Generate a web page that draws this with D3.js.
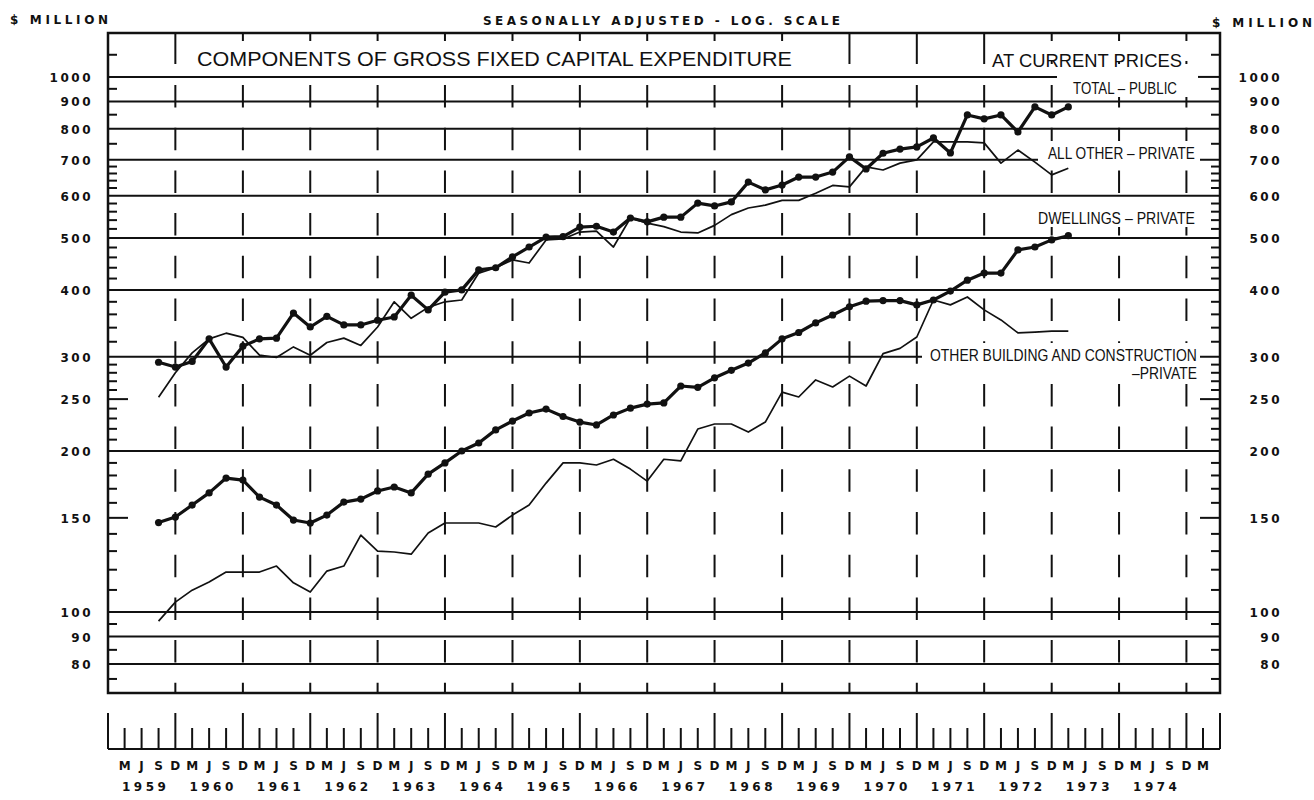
<!DOCTYPE html>
<html>
<head>
<meta charset="utf-8">
<script src="https://cdn.jsdelivr.net/npm/d3@7"></script>
<style>
  body { margin: 0; background: #fff; }
  svg { display: block; }
  .num { font-family: "DejaVu Sans", sans-serif; font-weight: bold; font-size: 12px; fill: #111; }
  .lab { font-family: "Liberation Sans", Arial, sans-serif; fill: #111; }
</style>
</head>
<body>
<svg id="chart" width="1314" height="800"></svg>
<script>
// quarterly observations, Sep 1959 .. Mar 1973
const periods = [
  "1959-09", "1959-12",
  "1960-03", "1960-06", "1960-09", "1960-12",
  "1961-03", "1961-06", "1961-09", "1961-12",
  "1962-03", "1962-06", "1962-09", "1962-12",
  "1963-03", "1963-06", "1963-09", "1963-12",
  "1964-03", "1964-06", "1964-09", "1964-12",
  "1965-03", "1965-06", "1965-09", "1965-12",
  "1966-03", "1966-06", "1966-09", "1966-12",
  "1967-03", "1967-06", "1967-09", "1967-12",
  "1968-03", "1968-06", "1968-09", "1968-12",
  "1969-03", "1969-06", "1969-09", "1969-12",
  "1970-03", "1970-06", "1970-09", "1970-12",
  "1971-03", "1971-06", "1971-09", "1971-12",
  "1972-03", "1972-06", "1972-09", "1972-12",
  "1973-03"
];

// $ million, seasonally adjusted
const totalPublic = [293, 287, 294, 324, 287, 314, 324, 325, 362, 341, 357, 344, 344, 351, 356, 391, 367, 396, 400,
  436, 440, 461, 481, 502, 503, 524, 526, 513, 545, 536, 547, 547, 581, 574, 584, 636, 615, 628, 650, 650, 664,
  709, 673, 720, 733, 740, 769, 721, 849, 835, 849, 789, 879, 849, 879];
const allOtherPrivate = [252, 280, 305, 324, 332, 326, 302, 299, 313, 302, 319, 325, 315, 341, 380, 354, 371, 380,
  383, 430, 440, 455, 449, 496, 498, 513, 515, 481, 545, 533, 525, 513, 511, 528, 553, 569, 576, 588, 588, 606,
  627, 623, 679, 670, 690, 700, 756, 756, 756, 753, 690, 730, 693, 656, 675];
const dwellingsPrivate = [147, 150.5, 158.5, 167, 178, 176.5, 164, 158.5, 148.6, 146.7, 151.8, 160.5, 162.6, 168.4,
  171.3, 167, 181, 190, 200, 207, 219, 227.5, 235.5, 239.5, 232, 226.5, 223.7, 233.5, 240.5, 244.7, 245.9, 264.5,
  263, 274, 283, 292, 305, 324, 333, 347, 359, 372, 381, 382, 382, 375, 383, 398, 417, 430, 430, 475, 481, 496, 505];
const otherBuildingPrivate = [96.2, 104.4, 109.9, 113.8, 118.8, 118.8, 118.8, 121.9, 113.4, 109, 119.3, 121.9,
  139.3, 130, 129.5, 128.3, 140.5, 146.7, 146.7, 146.7, 144.2, 151.8, 158.5, 174.2, 190, 190, 188.3, 193, 185,
  175.7, 193, 191.6, 219.8, 224.6, 224.6, 217, 226.5, 257.7, 252.3, 271.5, 263.4, 276, 264.5, 304, 311, 326.6,
  383, 375, 388, 367, 351.5, 332.4, 333.6, 335, 335];

const gridValues = [1000, 900, 800, 700, 600, 500, 400, 300, 200, 100, 90, 80];
const axisLabels = [1000, 900, 800, 700, 600, 500, 400, 300, 250, 200, 150, 100, 90, 80];
const longTicks = [250, 150];
const minorTicks = [1100, 950, 850, 750, 680, 660, 640, 620, 580, 560, 540, 520, 480, 460, 440, 420,
  380, 360, 340, 320, 290, 280, 270, 260, 240, 230, 220, 210, 190, 180, 170, 160,
  140, 130, 120, 110, 95, 85, 75];
const monthLetters = ["M", "J", "S", "D"];
const years = [1959, 1960, 1961, 1962, 1963, 1964, 1965, 1966, 1967, 1968, 1969, 1970, 1971, 1972, 1973, 1974];
const solidTopYears = [1959, 1969, 1970, 1971];
const dottedTopYears = [1972, 1973, 1974];

const plotL = 108, plotR = 1220, plotT = 33, plotB = 693;
const svg = d3.select("#chart");
const parse = d3.timeParse("%Y-%m");
const startDate = new Date(1958, 11, 1), endDate = new Date(1975, 5, 1);

const x = d3.scaleTime()
  .domain([startDate, endDate])
  .range([plotL, plotR]);
const y = d3.scaleLog()
  .domain([70.6, 1208])
  .range([plotB, plotT]);

const ink = "#111";

// horizontal rules
svg.append("g").selectAll("line")
  .data(gridValues)
  .join("line")
  .attr("x1", plotL)
  .attr("x2", d => d === 1000 ? 1057 : plotR)
  .attr("y1", d => y(d))
  .attr("y2", d => y(d))
  .attr("stroke", ink)
  .attr("stroke-width", 2);

// vertical year lines (dashed in the body)
const decembers = years.map(yr => new Date(yr, 11, 1));
svg.append("g").selectAll("line")
  .data(decembers)
  .join("line")
  .attr("x1", d => x(d)).attr("x2", d => x(d))
  .attr("y1", 85).attr("y2", plotB)
  .attr("stroke", ink)
  .attr("stroke-width", 2)
  .attr("stroke-dasharray", "22.5 20.2");

// top band: solid separators and short ticks
svg.append("g").selectAll("line")
  .data(years)
  .join("line")
  .attr("x1", d => x(new Date(d, 11, 1))).attr("x2", d => x(new Date(d, 11, 1)))
  .attr("y1", plotT)
  .attr("y2", d => solidTopYears.includes(d) ? 64 : 41)
  .attr("stroke", ink)
  .attr("stroke-width", 2);
svg.append("g").selectAll("line")
  .data(dottedTopYears)
  .join("line")
  .attr("x1", d => x(new Date(d, 11, 1))).attr("x2", d => x(new Date(d, 11, 1)))
  .attr("y1", 61).attr("y2", 64)
  .attr("stroke", ink)
  .attr("stroke-width", 2);

// axis ticks on both sides
const tickG = svg.append("g").attr("stroke", ink).attr("stroke-width", 2);
[[plotL, 1], [plotR, -1]].forEach(([x0, dir]) => {
  tickG.selectAll(null)
    .data(minorTicks)
    .join("line")
    .attr("x1", x0).attr("x2", x0 + dir * 9)
    .attr("y1", d => y(d)).attr("y2", d => y(d));
  tickG.selectAll(null)
    .data(longTicks)
    .join("line")
    .attr("x1", x0).attr("x2", x0 + dir * 20)
    .attr("y1", d => y(d)).attr("y2", d => y(d));
});
tickG.append("line")
  .attr("x1", plotR - 22).attr("x2", plotR)
  .attr("y1", y(1000)).attr("y2", y(1000));

// frame
svg.append("rect")
  .attr("x", plotL).attr("y", plotT)
  .attr("width", plotR - plotL).attr("height", plotB - plotT)
  .attr("fill", "none")
  .attr("stroke", ink)
  .attr("stroke-width", 2.5);

// axis numbers
svg.append("g").selectAll("text")
  .data(axisLabels)
  .join("text")
  .attr("class", "num")
  .attr("x", 93)
  .attr("y", d => y(d) + 5)
  .attr("text-anchor", "end")
  .attr("letter-spacing", 2.5)
  .text(d => d);
svg.append("g").selectAll("text")
  .data(axisLabels)
  .join("text")
  .attr("class", "num")
  .attr("x", 1282)
  .attr("y", d => y(d) + 5)
  .attr("text-anchor", "end")
  .attr("letter-spacing", 2.5)
  .text(d => d);

// header texts
svg.append("text").attr("class", "num")
  .attr("x", 10).attr("y", 24)
  .attr("textLength", 98).attr("lengthAdjust", "spacing")
  .text("$ MILLION");
svg.append("text").attr("class", "num")
  .attr("x", 483).attr("y", 25)
  .attr("textLength", 357).attr("lengthAdjust", "spacing")
  .text("SEASONALLY ADJUSTED - LOG. SCALE");
svg.append("text").attr("class", "num")
  .attr("x", 1212).attr("y", 27)
  .attr("textLength", 100).attr("lengthAdjust", "spacing")
  .text("$ MILLION");

// fit a text to a target width by horizontal scaling
function fitText(sel, tx, ty, w) {
  const w0 = sel.node().getComputedTextLength();
  sel.attr("transform", `translate(${tx},${ty}) scale(${w / w0},1)`);
}

fitText(svg.append("text").attr("class", "lab")
  .style("font-size", "21px")
  .text("COMPONENTS OF GROSS FIXED CAPITAL EXPENDITURE"), 197, 66, 595);
fitText(svg.append("text").attr("class", "lab")
  .style("font-size", "18px")
  .text("AT CURRENT PRICES"), 992, 67, 190);

// series labels with white knockouts
const seriesLabels = [
  { text: "TOTAL – PUBLIC", x: 1073, y: 94, w: 104, size: 16, box: [1057, 72, 1197, 97] },
  { text: "ALL OTHER – PRIVATE", x: 1048, y: 159, w: 147, size: 17, box: [1038, 141, 1200, 162] },
  { text: "DWELLINGS – PRIVATE", x: 1038, y: 224, w: 157, size: 17, box: [1030, 205, 1200, 227] },
  { text: "OTHER BUILDING AND CONSTRUCTION", x: 930, y: 361, w: 267, size: 17, box: [922, 343, 1200, 364] },
  { text: "–PRIVATE", x: 1132, y: 379, w: 65, size: 17, box: [1126, 364, 1200, 382] }
];
const labG = svg.append("g");
labG.selectAll("rect")
  .data(seriesLabels)
  .join("rect")
  .attr("x", d => d.box[0]).attr("y", d => d.box[1])
  .attr("width", d => d.box[2] - d.box[0]).attr("height", d => d.box[3] - d.box[1])
  .attr("fill", "#fff");
labG.selectAll("text")
  .data(seriesLabels)
  .join("text")
  .attr("class", "lab")
  .style("font-size", d => d.size + "px")
  .text(d => d.text)
  .each(function (d) { fitText(d3.select(this), d.x, d.y, d.w); });

// series
const dates = periods.map(parse);
const line = d3.line().x(d => x(d[0])).y(d => y(d[1]));
const series = [
  { values: otherBuildingPrivate, width: 1.7, dots: false },
  { values: allOtherPrivate, width: 1.7, dots: false },
  { values: dwellingsPrivate, width: 3.2, dots: true },
  { values: totalPublic, width: 3.2, dots: true }
];
series.forEach(s => {
  const pts = dates.map((d, i) => [d, s.values[i]]);
  svg.append("path")
    .datum(pts)
    .attr("d", line)
    .attr("fill", "none")
    .attr("stroke", ink)
    .attr("stroke-width", s.width)
    .attr("stroke-linejoin", "round");
  if (s.dots) {
    svg.append("g").selectAll("circle")
      .data(pts)
      .join("circle")
      .attr("cx", d => x(d[0]))
      .attr("cy", d => y(d[1]))
      .attr("r", 3.6)
      .attr("fill", ink);
  }
});

// bottom time strip: a tick every quarter from Dec 1958 to Jun 1975
const stripY = 749;
const quarters = d3.range(67).map(i => d3.timeMonth.offset(startDate, 3 * i));
const stripG = svg.append("g").attr("stroke", ink).attr("stroke-width", 2);
stripG.append("line")
  .attr("x1", plotL).attr("x2", plotR)
  .attr("y1", stripY).attr("y2", stripY);
stripG.selectAll(null)
  .data(quarters)
  .join("line")
  .attr("x1", d => x(d)).attr("x2", d => x(d))
  .attr("y1", (d, i) => (d.getMonth() === 11 || i === quarters.length - 1) ? 713 : 728)
  .attr("y2", stripY);

svg.append("g").selectAll("text")
  .data(quarters.slice(1, -1))
  .join("text")
  .attr("class", "num")
  .attr("x", d => x(d))
  .attr("y", 770)
  .attr("text-anchor", "middle")
  .text(d => monthLetters[(d.getMonth() + 1) / 3 - 1]);

svg.append("g").selectAll("text")
  .data(years)
  .join("text")
  .attr("class", "num")
  .attr("x", d => (x(new Date(d - 1, 11, 1)) + x(new Date(d, 11, 1))) / 2 + 4)
  .attr("y", 791)
  .attr("text-anchor", "middle")
  .attr("letter-spacing", 3.5)
  .text(d => d);
</script>
</body>
</html>
